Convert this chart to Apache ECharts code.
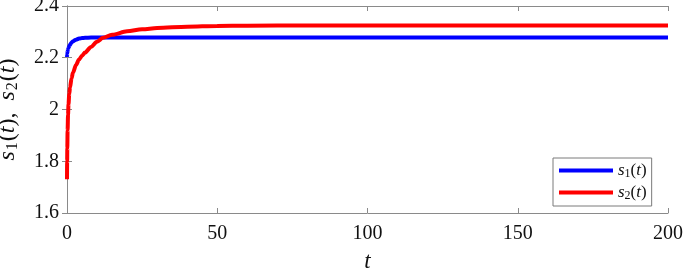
<!DOCTYPE html>
<html>
<head>
<meta charset="utf-8">
<script src="https://cdn.jsdelivr.net/npm/echarts@6/dist/echarts.min.js"></script>
<style>
	html, body { margin: 0; padding: 0; background: #fff; }
	#chart { width: 685px; height: 268px; }
</style>
</head>
<body>
<div id="chart"></div>
<script>
// time samples and read-off values
const tVals = [0, 0.05, 0.1, 0.2, 0.35, 0.5, 0.75, 1, 1.5, 2, 3, 4, 5, 6, 8, 10, 12, 15, 20, 25, 30, 40, 50, 60, 80, 100, 150, 200];
const s1Vals = [2.203, 2.212, 2.218, 2.226, 2.233, 2.238, 2.245, 2.25, 2.258, 2.264, 2.27, 2.274, 2.276, 2.277, 2.278, 2.278, 2.278, 2.278, 2.278, 2.278, 2.278, 2.278, 2.278, 2.278, 2.278, 2.278, 2.278, 2.278];
const s2Vals = [1.73, 1.80, 1.85, 1.92, 1.98, 2.02, 2.06, 2.085, 2.12, 2.143, 2.172, 2.193, 2.208, 2.22, 2.242, 2.262, 2.277, 2.289, 2.302, 2.31, 2.315, 2.320, 2.323, 2.324, 2.325, 2.325, 2.325, 2.325];
const xTicks = [0, 50, 100, 150, 200];
const yTicks = [1.6, 1.8, 2, 2.2, 2.4];

const serif = 'Liberation Serif';
const frameColor = '#8a8a8a';

function pairs(vals) {
	let out = [];
	for (let i = 0; i < tVals.length; i++) {
		out.push([tVals[i], vals[i]]);
	}
	return out;
}

const richMath = {
	i: { fontFamily: serif, fontStyle: 'italic', fontSize: 24, color: '#111' },
	n: { fontFamily: serif, fontSize: 24, color: '#111' },
	sub: { fontFamily: serif, fontSize: 16, color: '#111', padding: [11, 1, 0, 1] }
};
const richLegend = {
	i: { fontFamily: serif, fontStyle: 'italic', fontSize: 17, color: '#111' },
	n: { fontFamily: serif, fontSize: 17, color: '#111' },
	sub: { fontFamily: serif, fontSize: 12, color: '#111', padding: [7, 0, 0, 0] }
};

let myChart = echarts.init(document.getElementById('chart'));
let option = {
	animation: false,
	textStyle: { fontFamily: serif },
	grid: { left: 67, right: 17, top: 6, bottom: 55, outerBoundsMode: 'none', containLabel: false },
	legend: {
		orient: 'vertical',
		left: 553,
		top: 158,
		padding: [4, 5, 4, 6],
		itemGap: 4,
		itemWidth: 54,
		itemHeight: 4,
		icon: 'rect',
		borderColor: '#7a7a7a',
		borderWidth: 1,
		backgroundColor: '#fff',
		textStyle: { fontFamily: serif, rich: richLegend },
		formatter: function (name) {
			let k = name === 's1' ? '1' : '2';
			return '{i|s}{sub|' + k + '}{n|(}{i|t}{n|)}';
		},
		data: ['s1', 's2']
	},
	xAxis: [{
		type: 'value',
		min: 0,
		max: 200,
		interval: 50,
		name: 't',
		nameLocation: 'middle',
		nameGap: 37,
		nameTextStyle: { fontFamily: serif, fontStyle: 'italic', fontSize: 23, color: '#111' },
		axisLine: { show: true, lineStyle: { color: frameColor, width: 1 } },
		axisTick: { show: true, inside: true, length: 5, lineStyle: { color: frameColor } },
		axisLabel: { fontFamily: serif, fontSize: 20, color: '#111', margin: 11,
			formatter: function (v) { return xTicks.indexOf(v) >= 0 ? String(v) : ''; } },
		splitLine: { show: false }
	}, {
		type: 'value',
		position: 'top',
		min: 0,
		max: 200,
		interval: 50,
		axisLine: { show: true, lineStyle: { color: frameColor, width: 1 } },
		axisTick: { show: true, inside: true, length: 5, lineStyle: { color: frameColor } },
		axisLabel: { show: false },
		splitLine: { show: false }
	}],
	yAxis: [{
		type: 'value',
		min: 1.6,
		max: 2.4,
		interval: 0.2,
		name: '{i|s}{sub|1}{n|(}{i|t}{n|)}{n|,  }{i|s}{sub|2}{n|(}{i|t}{n|)}',
		nameLocation: 'middle',
		nameRotate: 90,
		nameGap: 46,
		nameTextStyle: { fontFamily: serif, rich: richMath },
		axisLine: { show: true, lineStyle: { color: frameColor, width: 1 } },
		axisTick: { show: true, inside: true, length: 5, lineStyle: { color: frameColor } },
		axisLabel: { fontFamily: serif, fontSize: 20, color: '#111', margin: 8,
			formatter: function (v) {
				let r = Math.round(v * 10) / 10;
				return yTicks.indexOf(r) >= 0 ? String(r) : '';
			} },
		splitLine: { show: false }
	}, {
		type: 'value',
		position: 'right',
		min: 1.6,
		max: 2.4,
		interval: 0.2,
		axisLine: { show: true, lineStyle: { color: frameColor, width: 1 } },
		axisTick: { show: true, inside: true, length: 5, lineStyle: { color: frameColor } },
		axisLabel: { show: false },
		splitLine: { show: false }
	}],
	series: [{
		name: 's1',
		type: 'line',
		data: pairs(s1Vals),
		showSymbol: false,
		symbol: 'none',
		smooth: 0.3,
		smoothMonotone: 'x',
		color: '#0000ff',
		lineStyle: { width: 4, color: '#0000ff' }
	}, {
		name: 's2',
		type: 'line',
		data: pairs(s2Vals),
		showSymbol: false,
		symbol: 'none',
		smooth: 0.3,
		smoothMonotone: 'x',
		color: '#ff0000',
		lineStyle: { width: 4, color: '#ff0000' }
	}]
};
myChart.setOption(option);
</script>
</body>
</html>
